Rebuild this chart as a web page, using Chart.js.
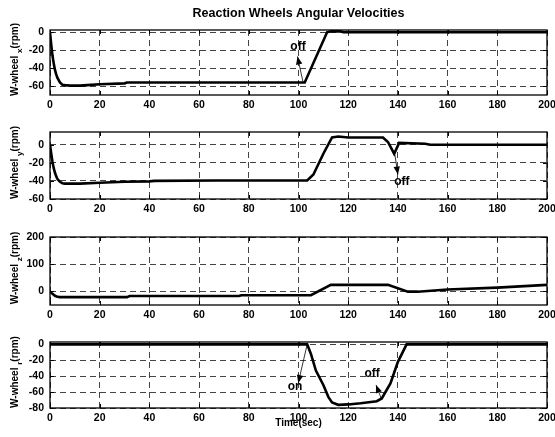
<!DOCTYPE html>
<html><head><meta charset="utf-8">
<script src="https://cdn.jsdelivr.net/npm/chart.js@4/dist/chart.umd.min.js"></script>
<style>
html,body{margin:0;padding:0;background:#fff;}
#wrap{position:relative;width:555px;height:437px;overflow:hidden;background:#fff;}
canvas{position:absolute;left:0;top:0;}
</style></head><body>
<div id="wrap">
<canvas id="c1" width="555" height="437"></canvas>
<canvas id="c2" width="555" height="437"></canvas>
<canvas id="c3" width="555" height="437"></canvas>
<canvas id="c4" width="555" height="437"></canvas>
</div>
<script>
// ---------- data ----------
const chartTitle = 'Reaction Wheels Angular Velocities';
const xTicks = [0,20,40,60,80,100,120,140,160,180,200];
const xTickLabels = ['0','20','40','60','80','100','120','140','160','180','200'];
const xTitle = 'Time(sec)';

const timeX  = [0,0.5,1,1.5,2,2.5,3,4,5,6,8,12,15,20,30,31,40,60,80,100,102.5,111.5,113,117,118,120,140,160,180,200];
const wheelX = [0,-14,-26,-35,-42,-47,-51,-56,-58.5,-59,-59.5,-59.5,-59,-58,-57,-56,-56,-56,-56,-56,-56,0,1,1,0,0,0,0,0,0];

const timeY  = [0,0.5,1,1.5,2,2.5,3,4,5,6,12,20,30,40,42,67,80,100,103.5,106,110,113.5,116,120,134,136,138.5,140.5,151,153,200];
const wheelY = [0,-10,-19,-26,-31,-35,-38,-41,-42.5,-43,-43,-42,-41,-40.5,-40,-39.5,-39.5,-39.5,-39.5,-33,-10,8,9,8,8,3,-10,2,1,0,0];

const timeZ  = [0,1,2,3,4,31,32,76,77,105,113,136,144,148,160,180,200];
const wheelZ = [0,-9,-16,-20,-21,-21,-17,-17,-14,-14,24,24,-1,-1,7,14,24];

const timeR  = [0,103.5,105,107,110,112,113.5,116,120,125,131.5,133.5,137,140,143.5,200];
const wheelR = [0,0,-12,-33,-51,-66,-73,-76,-75.5,-74,-71.5,-68,-49,-22,0,0];

const yTicksX = [-60,-40,-20,0];
const yTicksY = [-60,-40,-20,0];
const yTicksZ = [0,100,200];
const yTicksR = [-80,-60,-40,-20,0];

const labelSubs = ['x','y','z','r'];

const notesX = [{text:'off', t:99.8, v:-16.5, from:[101.8,-55.5], to:[99.6,-27]}];
const notesY = [{text:'off', t:141.6, v:-40.5, from:[138.8,-11], to:[140,-33]}];
const notesZ = [];
const notesR = [{text:'on', t:98.6, v:-53.5, from:[103.5,0], to:[99.9,-48.5]},
                {text:'off', t:129.6, v:-37, from:[133.5,-69.6], to:[131.2,-51]}];

// ---------- rendering ----------
Chart.defaults.font.family = '"Liberation Sans", Arial, Helvetica, sans-serif';
Chart.defaults.color = '#000';

const decor = {
  id: 'decor',
  afterDraw(chart, args, o) {
    const {ctx, chartArea: a, scales: {x, y}} = chart;
    ctx.save();
    ctx.setLineDash([]);
    ctx.strokeStyle = '#000';
    ctx.lineWidth = 1;
    ctx.beginPath();
    x.ticks.forEach(tk => {
      const px = Math.round(x.getPixelForValue(tk.value)) + 0.5;
      ctx.moveTo(px, a.top); ctx.lineTo(px, a.top + 4);
      ctx.moveTo(px, a.bottom); ctx.lineTo(px, a.bottom - 4);
    });
    y.ticks.forEach(tk => {
      const py = Math.round(y.getPixelForValue(tk.value)) + 0.5;
      ctx.moveTo(a.left, py); ctx.lineTo(a.left + 4, py);
      ctx.moveTo(a.right, py); ctx.lineTo(a.right - 4, py);
    });
    ctx.stroke();
    ctx.lineWidth = 1.3;
    ctx.strokeRect(a.left, a.top, a.right - a.left, a.bottom - a.top);

    // title
    if (o.title) {
      ctx.font = 'bold 12.5px "Liberation Sans", Arial, sans-serif';
      ctx.fillStyle = '#000';
      ctx.textAlign = 'center';
      ctx.textBaseline = 'middle';
      ctx.fillText(o.title, (a.left + a.right) / 2, 14);
    }

    // y label with subscript
    const mainFont = 'bold 10px "Liberation Sans", Arial, sans-serif';
    const subFont = 'bold 8px "Liberation Sans", Arial, sans-serif';
    ctx.font = mainFont;
    const w1 = ctx.measureText('W-wheel ').width;
    const w3 = ctx.measureText('(rpm)').width;
    ctx.font = subFont;
    const w2 = ctx.measureText(o.sub).width;
    const total = w1 + w2 + w3;
    ctx.save();
    ctx.translate(15, (a.top + a.bottom) / 2 - 3);
    ctx.rotate(-Math.PI / 2);
    ctx.textAlign = 'left';
    ctx.textBaseline = 'middle';
    ctx.fillStyle = '#000';
    let sx = -total / 2;
    ctx.font = mainFont; ctx.fillText('W-wheel ', sx, 0); sx += w1;
    ctx.font = subFont; ctx.fillText(o.sub, sx, 5); sx += w2;
    ctx.font = mainFont; ctx.fillText('(rpm)', sx, 0);
    ctx.restore();

    // annotations
    (o.notes || []).forEach(n => {
      const x0 = x.getPixelForValue(n.from[0]), y0 = y.getPixelForValue(n.from[1]);
      const x1 = x.getPixelForValue(n.to[0]), y1 = y.getPixelForValue(n.to[1]);
      ctx.strokeStyle = '#000'; ctx.fillStyle = '#000'; ctx.lineWidth = 0.8;
      ctx.beginPath(); ctx.moveTo(x0, y0); ctx.lineTo(x1, y1); ctx.stroke();
      const ang = Math.atan2(y1 - y0, x1 - x0), L = 8, W = 3.2;
      ctx.beginPath();
      ctx.moveTo(x1, y1);
      ctx.lineTo(x1 - L * Math.cos(ang) + W * Math.sin(ang), y1 - L * Math.sin(ang) - W * Math.cos(ang));
      ctx.lineTo(x1 - L * Math.cos(ang) - W * Math.sin(ang), y1 - L * Math.sin(ang) + W * Math.cos(ang));
      ctx.closePath(); ctx.fill();
      ctx.font = 'bold 12px "Liberation Sans", Arial, sans-serif';
      ctx.textAlign = 'center'; ctx.textBaseline = 'middle';
      ctx.fillText(n.text, x.getPixelForValue(n.t), y.getPixelForValue(n.v));
    });
    ctx.restore();
  }
};

function makePanel(id, times, values, yMin, yMax, yTicks, top, bottom, sub, notes, opts) {
  const last = !!opts.last;
  const xH = last ? 29 : 20;
  const pts = times.map((t, i) => ({x: t, y: values[i]}));
  return new Chart(document.getElementById(id), {
    type: 'line',
    data: { datasets: [{ data: pts, borderColor: '#000', borderWidth: 2.6, pointRadius: 0, tension: 0, fill: false }] },
    options: {
      responsive: false, animation: false, events: [],
      layout: { padding: { left: 0, right: 8, top: top, bottom: 437 - bottom - xH } },
      plugins: {
        legend: { display: false }, tooltip: { enabled: false }, title: { display: false },
        decor: { title: opts.title || null, sub: sub, notes: notes }
      },
      scales: {
        x: {
          type: 'linear', min: 0, max: 200,
          afterBuildTicks: s => { s.ticks = xTicks.map(v => ({value: v})); },
          afterFit: s => { s.height = xH; s.paddingLeft = 0; s.paddingRight = 0; },
          ticks: { padding: 4, maxRotation: 0, autoSkip: false,
                   font: { size: 10.5, weight: 'bold' },
                   callback: (v) => xTickLabels[xTicks.indexOf(v)] },
          grid: { color: '#444', lineWidth: 1, drawTicks: false },
          border: { display: false, dash: [6, 4] },
          title: { display: last, text: xTitle, font: { size: 10, weight: 'bold' }, padding: { top: 0, bottom: 8 } }
        },
        y: {
          type: 'linear', min: yMin, max: yMax,
          afterBuildTicks: s => { s.ticks = yTicks.map(v => ({value: v})); },
          afterFit: s => { s.width = 50; s.paddingTop = 0; s.paddingBottom = 0; },
          ticks: { padding: 6, autoSkip: false, font: { size: 10.5, weight: 'bold' },
                   callback: (v) => String(v) },
          grid: { color: '#444', lineWidth: 1, drawTicks: false },
          border: { display: false, dash: [6, 4] }
        }
      }
    },
    plugins: [decor]
  });
}

makePanel('c1', timeX, wheelX, -70, 2.5, yTicksX, 30, 95, labelSubs[0], notesX, {title: chartTitle});
makePanel('c2', timeY, wheelY, -60, 14, yTicksY, 132, 199, labelSubs[1], notesY, {});
makePanel('c3', timeZ, wheelZ, -50, 200, yTicksZ, 237, 305, labelSubs[2], notesZ, {});
makePanel('c4', timeR, wheelR, -80, 3, yTicksR, 342, 408, labelSubs[3], notesR, {last: true});
</script>
</body></html>
